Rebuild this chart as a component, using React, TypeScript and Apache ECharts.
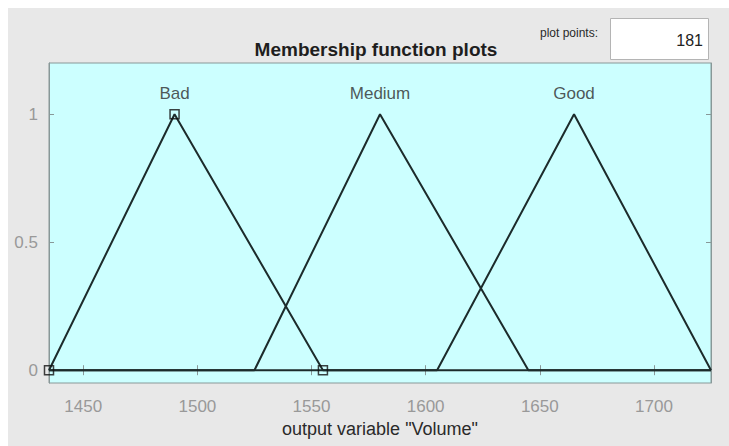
import React, { useEffect, useRef } from "react";
import * as echarts from "echarts";

// ---- data ----
const mfNames = ["Bad", "Medium", "Good"];
const badParams = [1435, 1490, 1555];
const mediumParams = [1525, 1580, 1645];
const goodParams = [1605, 1665, 1725];
const xRange = [1435, 1725];
const yRange = [-0.05, 1.2];
const xTicks = [1450, 1500, 1550, 1600, 1650, 1700];
const yTicks = [0, 0.5, 1];
const plotPoints = "181";
const titleText = "Membership function plots";
const xAxisName = 'output variable "Volume"';

const FONT = '"Liberation Sans", Arial, Helvetica, sans-serif';
const LINE = "#1c2b2b";
const AXIS = "#889898";
const TICKTXT = "#999999";

function trimf(p: number[]) {
  return [
    [xRange[0], 0],
    [p[0], 0],
    [p[1], 1],
    [p[2], 0],
    [xRange[1], 0],
  ];
}

export default function App() {
  const ref = useRef<HTMLDivElement>(null);
  useEffect(() => {
    if (!ref.current) return;
    const chart = echarts.init(ref.current, null, { renderer: "svg" });
    const params = [badParams, mediumParams, goodParams];
    const LABEL_Y = 1.08;
    const commonX = {
      type: "value",
      min: xRange[0],
      max: xRange[1],
      splitLine: { show: false },
      axisLine: { show: true, lineStyle: { color: AXIS, width: 1 } },
      axisTick: { show: true, inside: true, length: 5, customValues: xTicks, lineStyle: { color: AXIS } },
    };
    const commonY = {
      type: "value",
      min: yRange[0],
      max: yRange[1],
      splitLine: { show: false },
      axisLine: { show: true, lineStyle: { color: AXIS, width: 1 } },
      axisTick: { show: true, inside: true, length: 5, customValues: yTicks, lineStyle: { color: AXIS } },
    };
    chart.setOption({
      animation: false,
      backgroundColor: "#e8e8e8",
      grid: {
        left: 41,
        right: 18,
        top: 55,
        bottom: 63,
        show: true,
        backgroundColor: "#ccffff",
        borderColor: AXIS,
        borderWidth: 1,
      },
      xAxis: [
        {
          ...commonX,
          position: "bottom",
          name: xAxisName,
          nameLocation: "middle",
          nameGap: 33,
          nameTextStyle: { fontFamily: FONT, fontSize: 18, color: "#2a2a2a" },
          axisLabel: {
            show: true,
            customValues: xTicks,
            formatter: (v: number) => String(v),
            margin: 15,
            fontFamily: FONT,
            fontSize: 17,
            color: TICKTXT,
          },
        },
        {
          ...commonX,
          position: "top",
          axisLabel: { show: false },
        },
      ],
      yAxis: [
        {
          ...commonY,
          position: "left",
          axisLabel: {
            show: true,
            customValues: yTicks,
            formatter: (v: number) => String(v),
            margin: 11,
            fontFamily: FONT,
            fontSize: 17,
            color: TICKTXT,
          },
        },
        {
          ...commonY,
          position: "right",
          axisLabel: { show: false },
        },
      ],
      series: [
        ...params.map((p, i) => ({
          type: "line",
          name: mfNames[i],
          data: trimf(p),
          showSymbol: false,
          symbol: "none",
          lineStyle: { color: LINE, width: 2 },
          z: 3,
        })),
        {
          type: "scatter",
          name: "vertices",
          data: badParams.map((v, i) => [v, i === 1 ? 1 : 0]),
          symbol: "rect",
          symbolSize: 9,
          itemStyle: { color: "rgba(0,0,0,0)", borderColor: "#111", borderWidth: 1.5 },
          z: 4,
        },
        {
          type: "scatter",
          name: "labels",
          data: params.map((p, i) => ({ value: [p[1], LABEL_Y], name: mfNames[i] })),
          symbolSize: 0,
          label: {
            show: true,
            position: "inside",
            formatter: (d: any) => d.name,
            fontFamily: FONT,
            fontSize: 17,
            color: "#2b2b2b",
          },
          z: 5,
        },
      ],
      graphic: [
        {
          type: "text",
          x: 368,
          y: 41,
          style: {
            text: titleText,
            align: "center",
            verticalAlign: "middle",
            font: `bold 19px ${FONT}`,
            fill: "#1e1e1e",
          },
        },
        {
          type: "text",
          x: 590,
          y: 25,
          style: {
            text: "plot points:",
            align: "right",
            verticalAlign: "middle",
            font: `12px ${FONT}`,
            fill: "#2a2a2a",
          },
        },
        {
          type: "rect",
          shape: { x: 602.5, y: 10.5, width: 98, height: 41 },
          style: { fill: "#ffffff", stroke: "#b4b4b4", lineWidth: 1 },
        },
        {
          type: "text",
          x: 695,
          y: 32,
          style: {
            text: plotPoints,
            align: "right",
            verticalAlign: "middle",
            font: `16px ${FONT}`,
            fill: "#222",
          },
        },
      ],
    });
    return () => chart.dispose();
  }, []);
  return (
    <div style={{ position: "fixed", left: 0, top: 0, width: 729, height: 446, background: "#ffffff" }}>
      <div ref={ref} style={{ position: "absolute", left: 8, top: 8, width: 721, height: 438 }} />
    </div>
  );
}
